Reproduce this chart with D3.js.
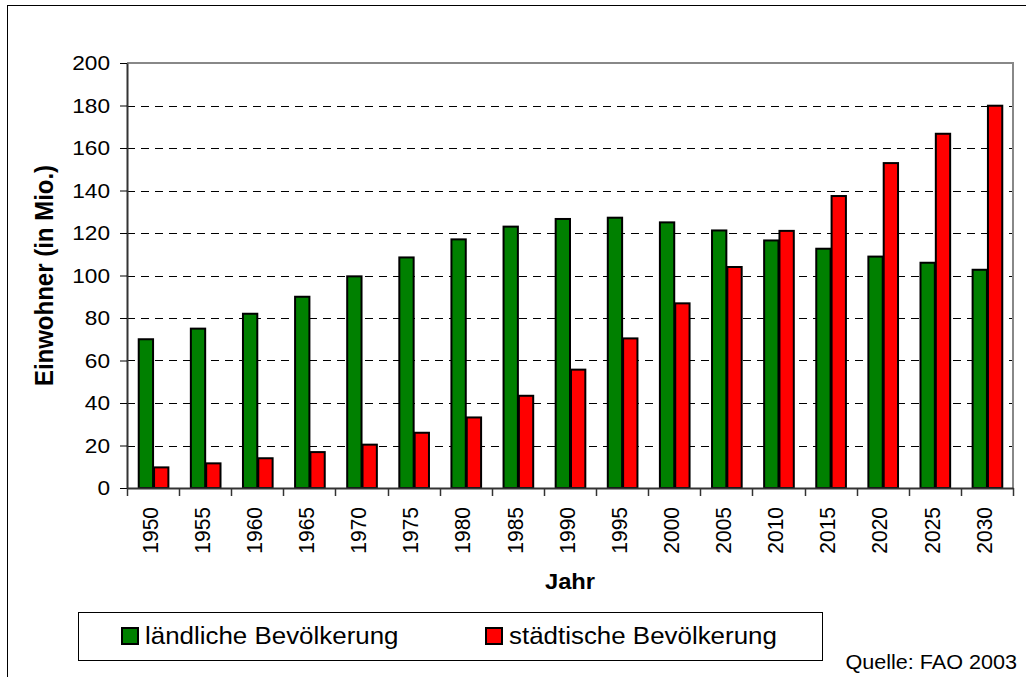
<!DOCTYPE html>
<html>
<head>
<meta charset="utf-8">
<script src="https://cdn.jsdelivr.net/npm/d3@7"></script>
<style>
  html, body { margin: 0; padding: 0; background: #fff; }
  svg { display: block; font-family: Arial, "Liberation Sans", sans-serif; }
</style>
</head>
<body>
<svg id="chart" width="1026" height="677"></svg>
<script>
const years = ["1950","1955","1960","1965","1970","1975","1980","1985","1990","1995","2000","2005","2010","2015","2020","2025","2030"];
const rural = [70, 75, 82, 90, 99.6, 108.5, 117, 123, 126.6, 127.2, 125, 121.2, 116.5, 112.6, 108.9, 106, 102.7];
const urban = [9.7, 11.6, 14, 16.9, 20.4, 26, 33.2, 43.4, 55.7, 70.4, 86.9, 104, 121, 137.4, 152.9, 166.7, 179.9];
const seriesNames = ["ländliche Bevölkerung", "städtische Bevölkerung"];
const seriesColors = ["#008000", "#ff0000"];
const yTicks = [0, 20, 40, 60, 80, 100, 120, 140, 160, 180, 200];

const SX = 1.08; // horizontal glyph stretch of the reference
const svg = d3.select("#chart");
const L = 127, R = 1013, T = 63, B = 488;

// outer chart border
svg.append("rect").attr("x", 7.5).attr("y", 5.5).attr("width", 1040).attr("height", 700)
  .attr("fill", "none").attr("stroke", "#000").attr("stroke-width", 1);

const x = d3.scaleBand().domain(years).range([L, R]).padding(0);
const x1 = d3.scaleBand().domain([0, 1]).range([0, x.bandwidth()]).paddingInner(0).paddingOuter(0.7);
const y = d3.scaleLinear().domain([0, 200]).range([B, T]);

// gridlines (dashed)
svg.append("g").selectAll("line").data(yTicks.filter(d => d > 0 && d < 200)).join("line")
  .attr("x1", L).attr("x2", R)
  .attr("y1", d => Math.round(y(d)) + 0.5).attr("y2", d => Math.round(y(d)) + 0.5)
  .attr("stroke", "#000").attr("stroke-width", 1).attr("stroke-dasharray", "8,6");

// plot border top/right gray
svg.append("path")
  .attr("d", `M${L},${Math.round(y(200))} H${R} V${B}`)
  .attr("fill", "none").attr("stroke", "#888").attr("stroke-width", 2);

// bars
const data = years.map((yr, i) => ({ yr, vals: [rural[i], urban[i]] }));
const groups = svg.append("g").selectAll("g").data(data).join("g")
  .attr("transform", d => `translate(${x(d.yr)},0)`);
groups.selectAll("rect").data(d => d.vals.map((v, k) => ({ v, k }))).join("rect")
  .attr("x", d => x1(d.k) + 1)
  .attr("y", d => y(d.v))
  .attr("width", x1.bandwidth() - 1)
  .attr("height", d => y(0) - y(d.v))
  .attr("fill", d => seriesColors[d.k])
  .attr("stroke", "#000").attr("stroke-width", 2);

// y axis
const yAxis = d3.axisLeft(y).tickValues(yTicks).tickSize(7).tickSizeOuter(0).tickPadding(10);
const gy = svg.append("g").attr("transform", `translate(${L},0)`).call(yAxis);
gy.select(".domain").attr("stroke", "#333").attr("stroke-width", 2);
gy.selectAll(".tick line").attr("stroke", "#000");
gy.selectAll(".tick text").attr("font-size", 21).attr("fill", "#000")
  .attr("font-family", "Arial, 'Liberation Sans', sans-serif")
  .attr("x", -17 / SX)
  .attr("transform", `scale(${SX},1)`);

// x axis
const xAxis = d3.axisBottom(x).tickSize(0).tickSizeOuter(0);
const gx = svg.append("g").attr("transform", `translate(0,${B})`).call(xAxis);
gx.select(".domain").attr("stroke", "#333").attr("stroke-width", 2);
gx.selectAll(".tick text")
  .attr("font-size", 21).attr("fill", "#000")
  .attr("font-family", "Arial, 'Liberation Sans', sans-serif")
  .attr("text-anchor", "end")
  .attr("transform", `scale(${SX},1) rotate(-90)`)
  .attr("x", -19).attr("y", -3).attr("dy", "0.35em");
// category separator ticks
const sepPos = years.map(d => x(d)).concat([R]);
svg.append("g").selectAll("line").data(sepPos).join("line")
  .attr("x1", d => Math.round(d) + 0.5).attr("x2", d => Math.round(d) + 0.5)
  .attr("y1", B).attr("y2", B + 8)
  .attr("stroke", "#333").attr("stroke-width", 1.5);

// axis titles
svg.append("text")
  .attr("transform", `translate(${(L + R) / 2},589) scale(${SX},1)`)
  .attr("text-anchor", "middle").attr("font-size", 22).attr("font-weight", "bold")
  .text("Jahr");
svg.append("text")
  .attr("transform", `translate(53,${(T + B) / 2}) scale(${SX},1) rotate(-90)`)
  .attr("text-anchor", "middle").attr("font-size", 24).attr("font-weight", "bold")
  .text("Einwohner (in Mio.)");

// legend
const lg = svg.append("g");
lg.append("rect").attr("x", 78.5).attr("y", 612.5).attr("width", 744).attr("height", 48)
  .attr("fill", "#fff").attr("stroke", "#000").attr("stroke-width", 1);
const legX = [121, 485];
seriesNames.forEach((name, i) => {
  lg.append("rect").attr("x", legX[i] + 1).attr("y", 628).attr("width", 16).attr("height", 16)
    .attr("fill", seriesColors[i]).attr("stroke", "#000").attr("stroke-width", 2);
  lg.append("text")
    .attr("transform", `translate(${legX[i] + 24},644) scale(${SX},1)`)
    .attr("font-size", 24).attr("fill", "#000").text(name);
});

// source
svg.append("text")
  .attr("transform", `translate(1017,669) scale(${SX},1)`)
  .attr("text-anchor", "end")
  .attr("font-size", 20).attr("fill", "#000").text("Quelle: FAO 2003");
</script>
</body>
</html>
